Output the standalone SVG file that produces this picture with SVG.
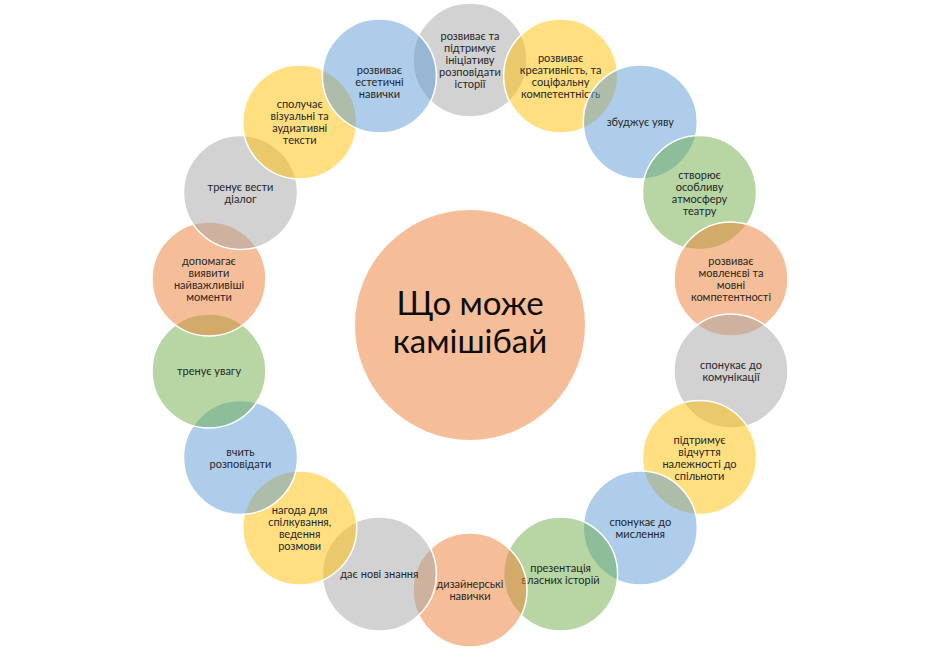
<svg xmlns="http://www.w3.org/2000/svg" width="940" height="650" viewBox="0 0 940 650">
<style>
.n circle{stroke:#fff;stroke-width:1.5;fill-opacity:0.5}
.gray{fill:#A5A5A5}.yel{fill:#FFC000}.blu{fill:#5B9BD5}.grn{fill:#70AD47}.org{fill:#ED7D31}
.n text{font-family:Lato,"Liberation Sans",sans-serif;font-size:11px;fill:#262626;text-anchor:middle}
.c text{font-family:Lato,"Liberation Sans",sans-serif;font-size:33px;fill:#0D0D0D;text-anchor:middle}
</style>
<rect width="940" height="650" fill="#fff"/>
<g id="center" class="c">
<circle cx="470" cy="325" r="115" fill="#F6BE98"/>
<text x="470" y="315">Що може<tspan x="470" dy="38">камішібай</tspan></text>
</g>
<g id="connectors"/>
<g id="n0" class="n"><circle class="gray" cx="470" cy="60" r="57"/><text x="470" y="40">розвиває та<tspan x="470" dy="12">підтримує</tspan><tspan x="470" dy="12">ініціативу</tspan><tspan x="470" dy="12">розповідати</tspan><tspan x="470" dy="12">історії</tspan></text></g>
<g id="n1" class="n"><circle class="yel" cx="560.6" cy="75.9" r="57"/><text x="560.6" y="61.9">розвиває<tspan x="560.6" dy="12">креативність, та</tspan><tspan x="560.6" dy="12">соціфальну</tspan><tspan x="560.6" dy="12">компетентність</tspan></text></g>
<g id="n2" class="n"><circle class="blu" cx="640.3" cy="122" r="57"/><text x="640.3" y="126">збуджує уяву</text></g>
<g id="n3" class="n"><circle class="grn" cx="699.5" cy="192.5" r="57"/><text x="699.5" y="178.5">створює<tspan x="699.5" dy="12">особливу</tspan><tspan x="699.5" dy="12">атмосферу</tspan><tspan x="699.5" dy="12">театру</tspan></text></g>
<g id="n4" class="n"><circle class="org" cx="731" cy="279" r="57"/><text x="731" y="265">розвиває<tspan x="731" dy="12">мовленєві та</tspan><tspan x="731" dy="12">мовні</tspan><tspan x="731" dy="12">компетентності</tspan></text></g>
<g id="n5" class="n"><circle class="gray" cx="731" cy="371" r="57"/><text x="731" y="369">спонукає до<tspan x="731" dy="12">комунікації</tspan></text></g>
<g id="n6" class="n"><circle class="yel" cx="699.5" cy="457.5" r="57"/><text x="699.5" y="443.5">підтримує<tspan x="699.5" dy="12">відчуття</tspan><tspan x="699.5" dy="12">належності до</tspan><tspan x="699.5" dy="12">спільноти</tspan></text></g>
<g id="n7" class="n"><circle class="blu" cx="640.3" cy="528" r="57"/><text x="640.3" y="526">спонукає до<tspan x="640.3" dy="12">мислення</tspan></text></g>
<g id="n8" class="n"><circle class="grn" cx="560.6" cy="574" r="57"/><text x="560.6" y="572">презентація<tspan x="560.6" dy="12">власних історій</tspan></text></g>
<g id="n9" class="n"><circle class="org" cx="470" cy="590" r="57"/><text x="470" y="588">дизайнерські<tspan x="470" dy="12">навички</tspan></text></g>
<g id="n10" class="n"><circle class="gray" cx="379.4" cy="574" r="57"/><text x="379.4" y="578">дає нові знання</text></g>
<g id="n11" class="n"><circle class="yel" cx="299.7" cy="528" r="57"/><text x="299.7" y="514">нагода для<tspan x="299.7" dy="12">спілкування,</tspan><tspan x="299.7" dy="12">ведення</tspan><tspan x="299.7" dy="12">розмови</tspan></text></g>
<g id="n12" class="n"><circle class="blu" cx="240.5" cy="457.5" r="57"/><text x="240.5" y="455.5">вчить<tspan x="240.5" dy="12">розповідати</tspan></text></g>
<g id="n13" class="n"><circle class="grn" cx="209" cy="371" r="57"/><text x="209" y="375">тренує увагу</text></g>
<g id="n14" class="n"><circle class="org" cx="209" cy="279" r="57"/><text x="209" y="265">допомагає<tspan x="209" dy="12">виявити</tspan><tspan x="209" dy="12">найважливіші</tspan><tspan x="209" dy="12">моменти</tspan></text></g>
<g id="n15" class="n"><circle class="gray" cx="240.5" cy="192.5" r="57"/><text x="240.5" y="190.5">тренує вести<tspan x="240.5" dy="12">діалог</tspan></text></g>
<g id="n16" class="n"><circle class="yel" cx="299.7" cy="122" r="57"/><text x="299.7" y="108">сполучає<tspan x="299.7" dy="12">візуальні та</tspan><tspan x="299.7" dy="12">аудиативні</tspan><tspan x="299.7" dy="12">тексти</tspan></text></g>
<g id="n17" class="n"><circle class="blu" cx="379.4" cy="75.9" r="57"/><text x="379.4" y="73.9">розвиває<tspan x="379.4" dy="12">естетичні</tspan><tspan x="379.4" dy="12">навички</tspan></text></g>
</svg>
